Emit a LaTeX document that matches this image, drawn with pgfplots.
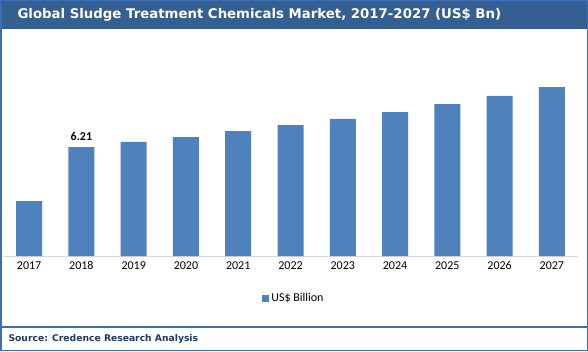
\documentclass[border=0pt]{standalone}
\usepackage{pgfplots}
\pgfplotsset{compat=1.18}
\usepackage{fontspec}
\setmainfont{Carlito}
\newfontfamily\titlefont{DejaVu Sans}
\definecolor{barblue}{HTML}{4F81BD}
\definecolor{titlebg}{HTML}{355E91}
\definecolor{frameblue}{HTML}{3A6FB5}
\definecolor{navy}{HTML}{1F3864}
\begin{document}
\begin{tikzpicture}[x=1pt,y=1pt]
\path[use as bounding box] (0,0) rectangle (588,351);
\fill[white] (0,0) rectangle (588,351);
\fill[titlebg] (0,322) rectangle (588,351);
\node[anchor=west,text=white,font=\titlefont\bfseries\fontsize{13.3}{15}\selectfont] at (14,336.5) {Global Sludge Treatment Chemicals Market, 2017-2027 (US\$ Bn)};
\draw[frameblue,line width=1.2pt] (0,24) -- (588,24);
\node[anchor=west,text=navy,font=\titlefont\bfseries\fontsize{9.2}{11}\selectfont] at (5,12.5) {Source: Credence Research Analysis};
\draw[frameblue,line width=1.5pt] (0.75,0.75) rectangle (587.25,350.25);
\begin{axis}[
  at={(3pt,95pt)}, anchor=south west,
  scale only axis, width=575pt, height=193pt,
  xmin=-0.5, xmax=10.5, ymin=0, ymax=11,
  axis x line=bottom, axis y line=none,
  x axis line style={draw=black!15, -},
  xtick=data,
  xticklabels={2017,2018,2019,2020,2021,2022,2023,2024,2025,2026,2027},
  major tick length=0pt,
  xticklabel style={font=\fontsize{12}{14}\selectfont, yshift=-2pt},
  ybar, bar width=26pt,
  legend style={at={(0.506,-0.218)}, anchor=center, draw=none, fill=none, font=\fontsize{12}{14}\selectfont, legend cell align=left},
  legend image code/.code={\fill[barblue] (0pt,-3.5pt) rectangle (7pt,3.5pt);},
  clip=false,
]
\addplot[fill=barblue, draw=none] coordinates {
  (0,3.13) (1,6.21) (2,6.50) (3,6.78) (4,7.12) (5,7.46) (6,7.81) (7,8.20) (8,8.66) (9,9.12) (10,9.63)
};
\addlegendentry{US\$ Billion}
\node[above, font=\bfseries\fontsize{12}{14}\selectfont, yshift=3pt] at (axis cs:1,6.21) {6.21};
\end{axis}
\end{tikzpicture}
\end{document}
